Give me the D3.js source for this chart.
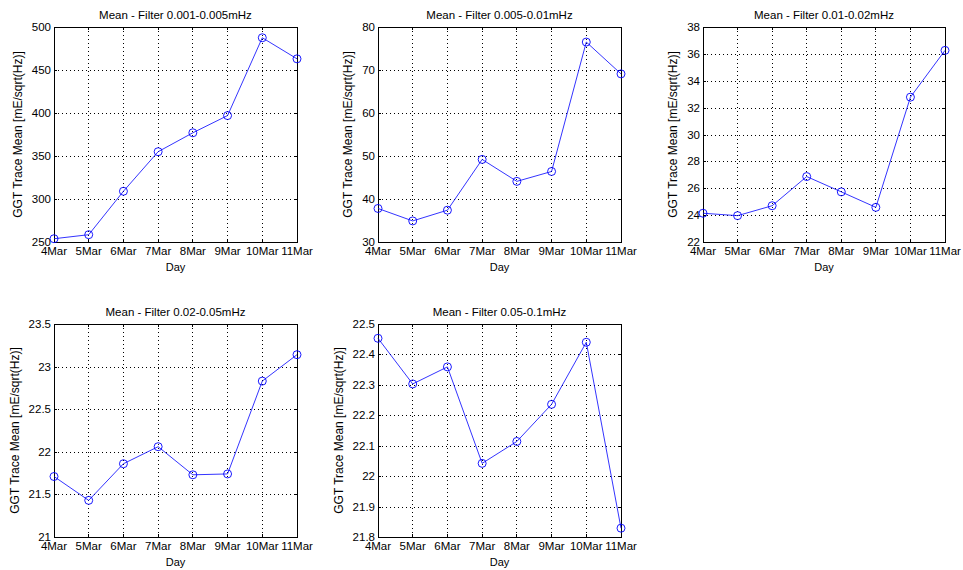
<!DOCTYPE html>
<html>
<head>
<meta charset="utf-8">
<script src="https://cdn.jsdelivr.net/npm/d3@7"></script>
<style>
  html, body { margin: 0; padding: 0; background: #fff; }
  svg { display: block; font-family: "Liberation Sans", Arial, Helvetica, sans-serif; }
</style>
</head>
<body>
<svg id="chart" width="963" height="570"></svg>
<script>
// Days along the x axis (shared by every panel)
const days = ['4Mar', '5Mar', '6Mar', '7Mar', '8Mar', '9Mar', '10Mar', '11Mar'];

// Panel titles
const titles = [
  'Mean - Filter 0.001-0.005mHz',
  'Mean - Filter 0.005-0.01mHz',
  'Mean - Filter 0.01-0.02mHz',
  'Mean - Filter 0.02-0.05mHz',
  'Mean - Filter 0.05-0.1mHz'
];

// Mean values per band, one per day
const band1 = [253.8, 258.5, 309, 355, 377, 397, 487.5, 463];
const band2 = [37.8, 34.9, 37.4, 49.2, 44.1, 46.4, 76.5, 69.1];
const band3 = [24.14, 23.96, 24.7, 26.87, 25.73, 24.58, 32.78, 36.26];
const band4 = [21.71, 21.43, 21.86, 22.06, 21.73, 21.74, 22.83, 23.14];
const band5 = [22.453, 22.303, 22.359, 22.042, 22.114, 22.236, 22.44, 21.829];

// Y tick values per panel (first/last = axis limits)
const ticks1 = [250, 300, 350, 400, 450, 500];
const ticks2 = [30, 40, 50, 60, 70, 80];
const ticks3 = [22, 24, 26, 28, 30, 32, 34, 36, 38];
const ticks4 = [21, 21.5, 22, 22.5, 23, 23.5];
const ticks5 = [21.8, 21.9, 22, 22.1, 22.2, 22.3, 22.4, 22.5];

const xLabel = 'Day';
const yLabel = 'GGT Trace Mean [mE/sqrt(Hz)]';

const series = [band1, band2, band3, band4, band5];
const tickSets = [ticks1, ticks2, ticks3, ticks4, ticks5];

// Axes boxes (left, right) / (top, bottom) — 3 columns x 2 rows grid
const colX = [[54, 297], [378, 621], [703, 945]];
const rowY = [[27, 242], [324, 537]];

const svg = d3.select('#chart');
svg.append('rect').attr('width', 963).attr('height', 570).attr('fill', '#fff');

const fmt = d3.format('~g');
const tickLen = 3;
const fs = 11.5;

series.forEach((vals, i) => {
  const [x0, x1] = colX[i % 3];
  const [y0, y1] = rowY[Math.floor(i / 3)];
  const ticks = tickSets[i];

  const x = d3.scalePoint().domain(days).range([x0, x1]).padding(0);
  const y = d3.scaleLinear().domain([ticks[0], ticks[ticks.length - 1]]).range([y1, y0]);

  const g = svg.append('g').attr('class', 'panel');

  // Dotted grid
  const grid = g.append('g').attr('stroke', '#000').attr('stroke-width', 1)
    .attr('stroke-dasharray', '1 3').attr('shape-rendering', 'crispEdges');
  days.slice(1, -1).forEach(d => {
    grid.append('line').attr('x1', x(d)).attr('x2', x(d)).attr('y1', y0).attr('y2', y1);
  });
  ticks.slice(1, -1).forEach(t => {
    grid.append('line').attr('x1', x0).attr('x2', x1).attr('y1', Math.round(y(t)) + 0.5).attr('y2', Math.round(y(t)) + 0.5);
  });

  // Inward ticks on all four sides
  const tk = g.append('g').attr('stroke', '#000').attr('stroke-width', 1).attr('shape-rendering', 'crispEdges');
  days.forEach(d => {
    tk.append('line').attr('x1', x(d)).attr('x2', x(d)).attr('y1', y1).attr('y2', y1 - tickLen);
    tk.append('line').attr('x1', x(d)).attr('x2', x(d)).attr('y1', y0).attr('y2', y0 + tickLen);
  });
  ticks.forEach(t => {
    const ty = Math.round(y(t)) + 0.5;
    tk.append('line').attr('x1', x0).attr('x2', x0 + tickLen).attr('y1', ty).attr('y2', ty);
    tk.append('line').attr('x1', x1).attr('x2', x1 - tickLen).attr('y1', ty).attr('y2', ty);
  });

  // Box
  g.append('rect').attr('x', x0 + 0.5).attr('y', y0 + 0.5)
    .attr('width', x1 - x0).attr('height', y1 - y0)
    .attr('fill', 'none').attr('stroke', '#000').attr('stroke-width', 1)
    .attr('shape-rendering', 'crispEdges');

  // Tick labels
  const xt = g.append('g').attr('font-size', fs).attr('fill', '#000').attr('text-anchor', 'middle');
  days.forEach(d => xt.append('text').attr('x', x(d)).attr('y', y1 + 13).text(d));

  const yt = g.append('g').attr('font-size', fs).attr('fill', '#000').attr('text-anchor', 'end');
  let maxW = 0;
  ticks.forEach(t => {
    const txt = yt.append('text').attr('x', x0 - 3).attr('y', y(t)).attr('dy', '0.35em').text(fmt(t));
    maxW = Math.max(maxW, txt.node().getComputedTextLength());
  });

  // Title and axis labels
  g.append('text').attr('x', (x0 + x1) / 2).attr('y', y0 - 8)
    .attr('text-anchor', 'middle').attr('font-size', fs).attr('fill', '#000')
    .text(titles[i]);

  g.append('text').attr('x', (x0 + x1) / 2).attr('y', y1 + 29)
    .attr('text-anchor', 'middle').attr('font-size', 11).attr('fill', '#000')
    .text(xLabel);

  const ly = (y0 + y1) / 2;
  const lx = x0 - 3 - maxW - 10;
  g.append('text')
    .attr('transform', `translate(${lx},${ly}) rotate(-90)`)
    .attr('text-anchor', 'middle').attr('font-size', 12).attr('fill', '#000')
    .text(yLabel);

  // Series line + circle markers
  const line = d3.line().x((v, j) => x(days[j])).y(v => y(v));
  g.append('path').datum(vals).attr('d', line)
    .attr('fill', 'none').attr('stroke', '#0000ff').attr('stroke-width', 0.8);

  g.selectAll('circle.pt').data(vals).join('circle').attr('class', 'pt')
    .attr('cx', (v, j) => x(days[j])).attr('cy', v => y(v)).attr('r', 4)
    .attr('fill', 'none').attr('stroke', '#0000ff').attr('stroke-width', 0.9);
});
</script>
</body>
</html>
